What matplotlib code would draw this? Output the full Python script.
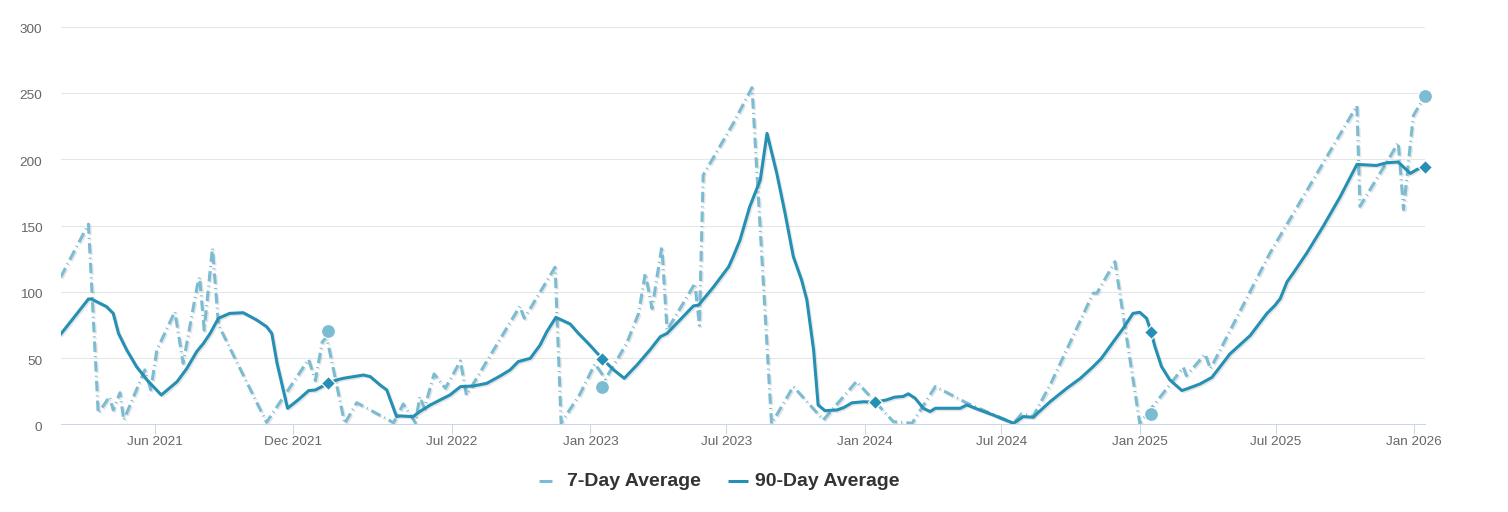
import matplotlib
matplotlib.use("Agg")
import matplotlib.pyplot as plt
import matplotlib.patheffects as pe
import matplotlib.transforms as mtrans
from matplotlib.lines import Line2D
import pandas as pd

plt.rcParams['font.family'] = ['Liberation Sans', 'DejaVu Sans']

# ---------------- data ----------------
ninety_dates = [
    "2021-01-26", "2021-03-04", "2021-03-08", "2021-03-28", "2021-04-06", "2021-04-13", "2021-04-24", "2021-05-07", "2021-05-21", "2021-06-09",
    "2021-06-30", "2021-07-13", "2021-07-26", "2021-08-04", "2021-08-13", "2021-08-24", "2021-09-08", "2021-09-26", "2021-10-14", "2021-10-27",
    "2021-11-03", "2021-11-10", "2021-11-24", "2021-12-08", "2021-12-22", "2021-12-31", "2022-01-17", "2022-01-28", "2022-02-06", "2022-02-20",
    "2022-03-05", "2022-03-14", "2022-03-27", "2022-04-05", "2022-04-18", "2022-04-23", "2022-05-10", "2022-05-19", "2022-06-02", "2022-06-15",
    "2022-06-28", "2022-07-12", "2022-07-29", "2022-08-16", "2022-09-03", "2022-09-16", "2022-09-27", "2022-10-13", "2022-10-26", "2022-11-04",
    "2022-11-16", "2022-12-05", "2022-12-16", "2022-12-29", "2023-01-16", "2023-01-31", "2023-02-15", "2023-03-04", "2023-03-21", "2023-04-04",
    "2023-04-13", "2023-04-30", "2023-05-18", "2023-05-25", "2023-06-14", "2023-07-04", "2023-07-10", "2023-07-19", "2023-08-01", "2023-08-15",
    "2023-08-24", "2023-09-06", "2023-09-17", "2023-09-28", "2023-10-09", "2023-10-16", "2023-10-25", "2023-10-31", "2023-11-09", "2023-11-25",
    "2023-12-04", "2023-12-15", "2023-12-30", "2024-01-15", "2024-01-30", "2024-02-10", "2024-02-21", "2024-02-28", "2024-03-08", "2024-03-19",
    "2024-03-28", "2024-04-04", "2024-05-07", "2024-05-16", "2024-06-02", "2024-06-20", "2024-07-17", "2024-07-30", "2024-08-12", "2024-09-04",
    "2024-09-26", "2024-10-14", "2024-10-31", "2024-11-11", "2024-11-27", "2024-12-10", "2024-12-23", "2025-01-01", "2025-01-10", "2025-01-16",
    "2025-01-21", "2025-01-30", "2025-02-10", "2025-02-26", "2025-03-04", "2025-03-22", "2025-04-07", "2025-05-01", "2025-05-28", "2025-06-19",
    "2025-06-30", "2025-07-07", "2025-07-16", "2025-07-24", "2025-08-11", "2025-09-02", "2025-09-25", "2025-10-17", "2025-11-12", "2025-11-26",
    "2025-12-11", "2025-12-27", "2026-01-05", "2026-01-15",
]
ninety_vals = [
    67.9, 94.5, 94.5, 88.8, 83.7, 68.6, 56, 43.5, 33.4, 22.1,
    32.2, 42.2, 54.8, 61, 68.6, 80, 83.7, 84.2, 78.7, 73.7,
    68.6, 46, 12.1, 18.4, 25.4, 25.9, 30.9, 33.4, 34.7, 36,
    37.2, 36, 29.7, 25.9, 5.8, 6.3, 5.8, 9.6, 14.6, 18.4,
    22.1, 28.4, 28.9, 30.9, 36.5, 41, 47.3, 49.8, 59.8, 69.9,
    80.7, 75.7, 68.6, 61.1, 50, 41.5, 34.7, 44.8, 56, 66.1,
    68.6, 78.7, 89.3, 90, 103.8, 118.9, 126.5, 139, 164.2, 184.3,
    219.5, 189.3, 159.2, 126.5, 108.9, 93.8, 56, 14.6, 10.3, 10.8,
    12.6, 16.2, 17, 16.7, 18.4, 20.5, 21, 23, 19.7, 12.1,
    9.6, 12.1, 12.1, 14.6, 10.8, 7, 0.8, 5.8, 5.3, 17.2,
    27.2, 34.7, 43.5, 49.8, 62.4, 72.4, 83.7, 84.5, 80, 70,
    59, 43.5, 33.5, 25.5, 26.6, 30.4, 35.4, 53.1, 67, 83.5,
    89.8, 94.9, 107.5, 113.9, 129, 149.3, 172, 196.1, 195.3, 197.4,
    197.9, 189.3, 192.3, 194.4,
]

seven_dates = [
    "2021-01-26", "2021-03-04", "2021-03-17", "2021-04-01", "2021-04-06", "2021-04-15", "2021-04-20", "2021-05-18", "2021-05-26", "2021-06-03",
    "2021-06-27", "2021-07-08", "2021-07-27", "2021-07-30", "2021-08-05", "2021-08-16", "2021-08-24", "2021-10-27", "2021-12-22", "2021-12-31",
    "2022-01-09", "2022-01-15", "2022-02-08", "2022-02-24", "2022-04-14", "2022-04-27", "2022-05-13", "2022-05-19", "2022-05-25", "2022-06-07",
    "2022-06-22", "2022-07-12", "2022-07-20", "2022-09-29", "2022-10-05", "2022-11-15", "2022-11-23", "2022-12-18", "2023-01-07", "2023-01-21",
    "2023-02-18", "2023-03-06", "2023-03-15", "2023-03-24", "2023-04-06", "2023-04-13", "2023-05-20", "2023-05-26", "2023-05-31", "2023-07-10",
    "2023-08-04", "2023-08-30", "2023-09-28", "2023-11-07", "2023-12-21", "2024-02-08", "2024-03-04", "2024-04-04", "2024-05-16", "2024-07-17",
    "2024-07-28", "2024-08-12", "2024-09-04", "2024-10-31", "2024-11-05", "2024-11-29", "2025-01-01", "2025-02-28", "2025-03-04", "2025-03-29",
    "2025-04-05", "2025-06-23", "2025-10-17", "2025-10-21", "2025-11-28", "2025-12-11", "2025-12-18", "2025-12-31", "2026-01-13",
]
seven_vals = [
    111, 151, 8.3, 20.8, 10.8, 23.8, 3.2, 41, 26, 56,
    85, 46, 105, 111, 71, 133, 75, 1.5, 49, 33,
    62, 66, 0.5, 16.3, 1.2, 15.3, 1.2, 20.8, 12, 38,
    27.2, 47.8, 22, 89, 80, 118.5, 1, 22.8, 45.6, 34.2,
    60.8, 83.5, 113.9, 87.3, 134.2, 70.9, 106.3, 74.7, 188, 227,
    254, 0.5, 28.5, 3.3, 32.3, 2, 0.8, 28.5, 16, 0.8,
    8, 6, 30, 99, 99, 122.7, 0.8, 43, 36.7, 53,
    41.8, 129, 240.4, 164.5, 200, 212.6, 162, 232.8, 245.5,
]

circle_dates = ["2022-01-17", "2023-01-16", "2025-01-16", "2026-01-15"]
circle_vals = [70.4, 28.4, 7.5, 247.5]
diamond_dates = ["2022-01-17", "2023-01-16", "2024-01-15", "2025-01-16", "2026-01-15"]
diamond_vals = [30.9, 49.3, 16.7, 70.0, 194.4]

tick_dates = ["2021-06-01", "2021-12-01", "2022-07-01", "2023-01-01", "2023-07-01",
              "2024-01-01", "2024-07-01", "2025-01-01", "2025-07-01", "2026-01-01"]
tick_labels = ["Jun 2021", "Dec 2021", "Jul 2022", "Jan 2023", "Jul 2023",
               "Jan 2024", "Jul 2024", "Jan 2025", "Jul 2025", "Jan 2026"]
y_ticks = [0, 50, 100, 150, 200, 250, 300]
series_names = ["7-Day Average", "90-Day Average"]

# ---------------- style ----------------
C7 = "#7cbcd3"
C90 = "#2590b4"
W, H = 1508, 512

fig = plt.figure(figsize=(W / 100, H / 100), dpi=100)
ax = fig.add_axes([61 / W, (H - 424.3) / H, (1425 - 61) / W, (424.3 - 26.7) / H])

shadow = [pe.SimpleLineShadow(offset=(1, -1), shadow_color="black", alpha=0.10), pe.Normal()]

ax.plot(pd.to_datetime(seven_dates), seven_vals, color=C7, lw=2.2,
        dashes=(3.4, 1.35, 0.35, 1.35), dash_capstyle="butt", dash_joinstyle="round",
        zorder=3, path_effects=shadow)
ax.plot(pd.to_datetime(ninety_dates), ninety_vals, color=C90, lw=2.2,
        solid_joinstyle="round", solid_capstyle="round", zorder=4, path_effects=shadow)

ax.plot(pd.to_datetime(circle_dates), circle_vals, linestyle="none", marker="o",
        ms=10, mfc=C7, mec="white", mew=0.8, zorder=5, clip_on=False)
ax.plot(pd.to_datetime(diamond_dates), diamond_vals, linestyle="none", marker="D",
        ms=7.2, mfc=C90, mec="white", mew=0.9, zorder=6, clip_on=False)

ax.set_xlim(pd.Timestamp("2021-01-26 12:00"), pd.Timestamp("2026-01-15 14:00"))
ax.set_ylim(0, 300)
ax.set_yticks(y_ticks)
ax.set_yticklabels([str(v) for v in y_ticks])
ax.set_xticks(pd.to_datetime(tick_dates))
ax.set_xticklabels(tick_labels)

ax.grid(axis="y", color="#e6e6e6", lw=0.75)
ax.set_axisbelow(True)
for s in ["left", "right", "top"]:
    ax.spines[s].set_visible(False)
ax.spines["bottom"].set_color("#ccd6eb")
ax.spines["bottom"].set_linewidth(0.75)

ax.tick_params(axis="x", length=7.2, width=0.75, color="#ccd6eb", labelcolor="#666666",
               labelsize=9.7, pad=1.5)
ax.tick_params(axis="y", length=0, labelcolor="#666666", labelsize=9.7, pad=13.5)

offset = mtrans.ScaledTranslation(0, -2 / 100, fig.dpi_scale_trans)
for t in ax.yaxis.get_major_ticks():
    t.label1.set_transform(t.label1.get_transform() + offset)

# ---------------- legend ----------------
ysym = (H - 481) / H
ybase = (H - 485.7) / H
fig.add_artist(Line2D([539 / W, 552 / W], [ysym, ysym], transform=fig.transFigure,
                      color=C7, lw=2.2, solid_capstyle="butt"))
fig.text(567 / W, ybase, series_names[0], fontsize=14, fontweight="bold",
         color="#333333", va="baseline", ha="left")
fig.add_artist(Line2D([728 / W, 748 / W], [ysym, ysym], transform=fig.transFigure,
                      color=C90, lw=2.2, solid_capstyle="butt"))
fig.text(755 / W, ybase, series_names[1], fontsize=14, fontweight="bold",
         color="#333333", va="baseline", ha="left")

fig.savefig("out.png", dpi=100)
